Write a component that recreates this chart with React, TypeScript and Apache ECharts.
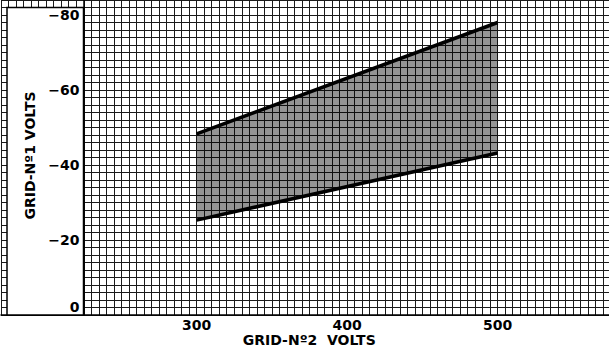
import React, { useEffect, useRef } from "react";
import * as echarts from "echarts";

// Boundary lines of the shaded operating region (grid-No.2 volts vs grid-No.1 volts)
const screenVolts: number[] = [300, 500];
const lowerBound: number[] = [-25.3, -43.2];
const upperBound: number[] = [-48.3, -78];
const yTickLabels: number[] = [0, -20, -40, -60, -80];
const xTickLabels: number[] = [300, 400, 500];

const FONT = "DejaVu Sans";

export default function App() {
  const ref = useRef<HTMLDivElement>(null);
  useEffect(() => {
    if (!ref.current) return;
    const chart = echarts.init(ref.current, undefined, { renderer: "svg" });
    const lowerData = screenVolts.map((x, i) => [x, lowerBound[i]]);
    const upperData = screenVolts.map((x, i) => [x, upperBound[i]]);
    const bandData = screenVolts.map((x, i) => [x, lowerBound[i], upperBound[i]]);
    const gridLine = { show: true, lineStyle: { color: "#1a1a1a", width: 1 } };
    const option: any = {
      animation: false,
      backgroundColor: "#ffffff",
      grid: { left: 1, top: 0, width: 609.5, height: 315, outerBoundsMode: "none", containLabel: false },
      xAxis: {
        type: "value",
        min: 170,
        max: 575,
        interval: 5,
        z: 0,
        axisLine: { show: true, onZero: false, lineStyle: { color: "#000", width: 1.5 } },
        axisTick: { show: false },
        splitLine: gridLine,
        axisLabel: {
          show: true,
          margin: 3,
          color: "#000",
          fontFamily: FONT,
          fontWeight: "bold",
          fontSize: 14,
          lineHeight: 14,
          formatter: (v: number) => (xTickLabels.indexOf(v) >= 0 ? String(v) : ""),
        },
        name: "GRID-Nº2  VOLTS",
        nameLocation: "middle",
        nameGap: 18,
        nameMoveOverlap: false,
        nameTextStyle: {
          color: "#000",
          fontFamily: FONT,
          fontWeight: "bold",
          fontSize: 14,
          lineHeight: 13,
          padding: [0, 0, 0, 7],
        },
      },
      yAxis: [
        {
          type: "value",
          min: -84,
          max: 0,
          interval: 2,
          inverse: true,
          z: 0,
          axisLine: { show: false },
          axisTick: { show: false },
          axisLabel: { show: false },
          splitLine: gridLine,
        },
        {
          type: "value",
          min: -84,
          max: 0,
          interval: 4,
          inverse: true,
          position: "left",
          offset: -82.5,
          z: 10,
          axisLine: { show: true, lineStyle: { color: "#000", width: 1.5 } },
          axisTick: { show: false },
          splitLine: { show: false },
          axisLabel: {
            show: true,
            margin: 4,
            color: "#000",
            fontFamily: FONT,
            fontWeight: "bold",
            fontSize: 14,
            formatter: (v: number) => {
              if (yTickLabels.indexOf(v) < 0) return "";
              if (v === 0) return "{z|0}";
              return "\u2212" + String(Math.abs(v));
            },
            rich: {
              z: {
                fontFamily: FONT,
                fontWeight: "bold",
                fontSize: 14,
                color: "#000",
                padding: [0, 0, 16, 0],
              },
            },
          },
          name: "GRID-Nº1 VOLTS",
          nameLocation: "middle",
          nameRotate: 90,
          nameGap: 47,
          nameMoveOverlap: false,
          nameTextStyle: {
            color: "#000",
            fontFamily: FONT,
            fontWeight: "bold",
            fontSize: 14,
            padding: [0, 0, 0, 4],
          },
        },
      ],
      graphic: [
        {
          type: "rect",
          z: 5,
          shape: { x: 7, y: 7.5, width: 76.5, height: 307.5 },
          style: { fill: "#ffffff", stroke: "#000", lineWidth: 1.5 },
        },
      ],
      series: [
        {
          type: "custom",
          data: bandData,
          z: 2,
          renderItem: (params: any, api: any) => {
            const i = params.dataIndex;
            if (i >= bandData.length - 1) return null;
            const a = bandData[i];
            const b = bandData[i + 1];
            const pts = [
              api.coord([a[0], a[1]]),
              api.coord([b[0], b[1]]),
              api.coord([b[0], b[2]]),
              api.coord([a[0], a[2]]),
            ];
            return {
              type: "polygon",
              shape: { points: pts },
              style: { fill: "rgba(0,0,0,0.42)", stroke: "none" },
            };
          },
          encode: { x: 0, y: [1, 2] },
        },
        {
          type: "line",
          data: lowerData,
          symbol: "none",
          z: 3,
          lineStyle: { color: "#000", width: 3.5 },
        },
        {
          type: "line",
          data: upperData,
          symbol: "none",
          z: 3,
          lineStyle: { color: "#000", width: 3.5 },
        },
      ],
    };
    chart.setOption(option);
    return () => chart.dispose();
  }, []);
  return (
    <div
      ref={ref}
      style={{ position: "fixed", left: 0, top: 0, width: 609, height: 348, background: "#fff" }}
    />
  );
}
